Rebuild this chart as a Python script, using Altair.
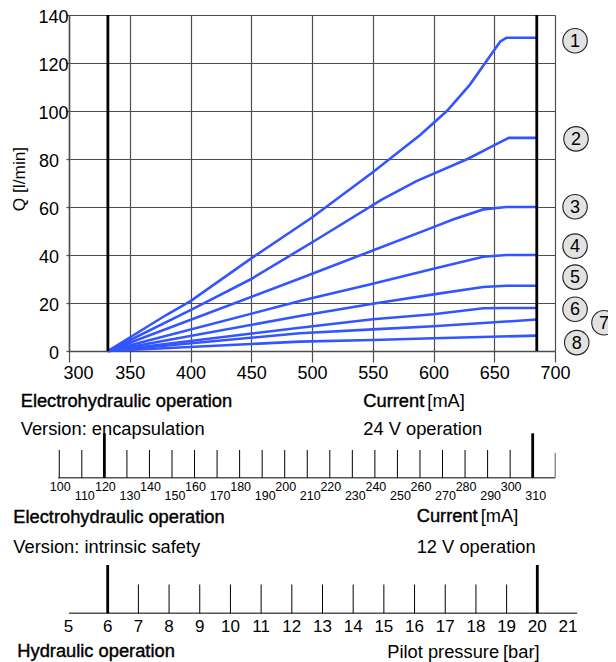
import altair as alt
import pandas as pd

FONT = "Liberation Sans"
BLUE = "#3355ff"
GRID = "#4d4d4d"

# ---- characteristic curves: current [mA] vs flow Q [l/min] ----
curve_1_current = [332, 380, 400, 450, 500, 550, 589, 611, 630, 648, 655, 660, 685]
curve_1_flow = [0, 15, 20.8, 38.6, 55.6, 74.5, 90, 100, 111, 124, 129, 130.5, 130.5]
curve_2_current = [332, 400, 450, 507, 557, 586, 628, 655, 662, 685]
curve_2_flow = [0, 17, 30, 47.4, 63, 70.8, 80, 87, 88.8, 88.8]
curve_3_current = [332, 490, 550, 600, 616, 641, 660, 685]
curve_3_flow = [0, 30.2, 41.9, 51.6, 54.8, 59, 60, 60]
curve_4_current = [332, 490, 550, 600, 641, 660, 685]
curve_4_flow = [0, 20.8, 28, 34.3, 39.3, 40, 40]
curve_5_current = [332, 490, 550, 600, 641, 660, 685]
curve_5_flow = [0, 14.6, 19.7, 23.6, 26.7, 27.2, 27.2]
curve_6_current = [332, 490, 550, 600, 641, 660, 685]
curve_6_flow = [0, 9.7, 13.2, 15.3, 17.8, 17.9, 17.9]
curve_7_current = [332, 490, 550, 600, 685]
curve_7_flow = [0, 7.4, 9.0, 10.3, 13.1]
curve_8_current = [332, 490, 550, 600, 685]
curve_8_flow = [0, 3.9, 4.6, 5.3, 6.4]

limit_current = [332, 685]

curve_ids = ["1", "2", "3", "4", "5", "6", "7", "8"]
label_current = [716.5, 717.3, 716.5, 716.5, 716.5, 716.5, 740.3, 717.9]
label_flow = [129.3, 88.4, 60.1, 43.7, 30.8, 17.4, 11.8, 3.5]

x_ticks = [300, 350, 400, 450, 500, 550, 600, 650, 700]
y_ticks = [0, 20, 40, 60, 80, 100, 120, 140]

# ---- 24 V scale (encapsulation), current [mA] ----
enc_minor = [100, 110, 130, 140, 150, 160, 170, 180, 190, 200, 210, 220, 230,
             240, 250, 260, 270, 280, 290, 300]
enc_major = [120, 310]
enc_end = [320]
enc_labels = [100, 110, 120, 130, 140, 150, 160, 170, 180, 190, 200, 210, 220,
              230, 240, 250, 260, 270, 280, 290, 300, 310]

# ---- 12 V scale (intrinsic safety) / pilot pressure [bar] ----
bar_minor = [7, 8, 9, 10, 11, 12, 13, 14, 15, 16, 17, 18, 19]
bar_major = [6, 20]
bar_labels = [5, 6, 7, 8, 9, 10, 11, 12, 13, 14, 15, 16, 17, 18, 19, 20, 21]

curves = [
    (curve_1_current, curve_1_flow), (curve_2_current, curve_2_flow),
    (curve_3_current, curve_3_flow), (curve_4_current, curve_4_flow),
    (curve_5_current, curve_5_flow), (curve_6_current, curve_6_flow),
    (curve_7_current, curve_7_flow), (curve_8_current, curve_8_flow),
]
rows = []
for cid, (cx, cy) in zip(curve_ids, curves):
    for i, (a, b) in enumerate(zip(cx, cy)):
        rows.append({"curve": cid, "current": a, "flow": b, "o": i})
curve_df = pd.DataFrame(rows)

xs = alt.Scale(domain=[300, 700], nice=False, zero=False)
ys = alt.Scale(domain=[0, 140], nice=False, zero=False)

xaxis = alt.Axis(values=x_ticks, title=None, grid=True, gridColor=GRID, gridWidth=1.2,
                 tickSize=11, tickColor=GRID, tickWidth=1.2, domainColor=GRID, domainWidth=1.5,
                 labelFont=FONT, labelFontSize=18, labelColor="black", labelPadding=2,
                 labelFlush=False, labelOverlap=False,
                 labelOffset={"condition": {"test": "datum.value == 300", "value": 9}, "value": 0})
yaxis = alt.Axis(values=y_ticks, title=None, grid=True, gridColor=GRID, gridWidth=1.2,
                 tickSize=3, tickColor=GRID, tickWidth=1.2, domainColor=GRID, domainWidth=1.5,
                 labelFont=FONT, labelFontSize=18, labelColor="black", labelOffset=2,
                 labelOverlap=False,
                 labelPadding={"condition": {"test": "datum.value >= 100", "value": -2}, "value": 7.5})

layers = []

lines = alt.Chart(curve_df).mark_line(color=BLUE, strokeWidth=2.6).encode(
    x=alt.X("current:Q", scale=xs, axis=xaxis),
    y=alt.Y("flow:Q", scale=ys, axis=yaxis),
    detail="curve:N",
    order="o:Q",
)
layers.append(lines)

limits = alt.Chart(pd.DataFrame({"current": limit_current})).mark_rule(
    color="black", strokeWidth=2.8).encode(x=alt.X("current:Q", scale=xs, axis=xaxis))
layers.append(limits)

lab_df = pd.DataFrame({"id": curve_ids, "current": label_current, "flow": label_flow})
circles = alt.Chart(lab_df).mark_circle(size=600, color="#e2e2e2", opacity=1,
                                        stroke="#222222", strokeWidth=1.1).encode(
    x=alt.X("current:Q", scale=xs, axis=xaxis), y=alt.Y("flow:Q", scale=ys, axis=yaxis))
nums = alt.Chart(lab_df).mark_text(font=FONT, fontSize=18, color="black", baseline="middle",
                                   align="center", dy=1).encode(
    x=alt.X("current:Q", scale=xs, axis=xaxis), y=alt.Y("flow:Q", scale=ys, axis=yaxis),
    text="id:N")
layers += [circles, nums]

# ---- scale 1 (24 V) ----
MAP1 = "292.0 + (datum.v - 100) * 1.8554"
Y1_BASE = 462.7


def s1(values):
    return alt.Chart(pd.DataFrame({"v": values})).transform_calculate(px=MAP1)


layers.append(s1([99.5]).transform_calculate(v2="320", px2="292.0 + (datum.v2 - 100) * 1.8554")
              .mark_rule(color="#555555", strokeWidth=1.6).encode(
    x=alt.X("px:Q", scale=xs, axis=xaxis), x2="px2:Q", y=alt.value(Y1_BASE)))
layers.append(s1(enc_minor).mark_rule(color="black", strokeWidth=1).encode(
    x=alt.X("px:Q", scale=xs, axis=xaxis), y=alt.value(435), y2=alt.value(Y1_BASE)))
layers.append(s1(enc_end).mark_rule(color="#777777", strokeWidth=1.2).encode(
    x=alt.X("px:Q", scale=xs, axis=xaxis), y=alt.value(438), y2=alt.value(Y1_BASE)))
layers.append(s1(enc_major).mark_rule(color="black", strokeWidth=2.8).encode(
    x=alt.X("px:Q", scale=xs, axis=xaxis), y=alt.value(418.3), y2=alt.value(Y1_BASE)))
enc_lab_df = pd.DataFrame({"v": enc_labels, "lab": [str(v) for v in enc_labels],
                           "i": list(range(len(enc_labels)))})
for parity, ypix, dx in [(0, 472.3, 1), (1, 481.0, 3)]:
    layers.append(alt.Chart(enc_lab_df).transform_calculate(px=MAP1)
                  .transform_filter(f"datum.i % 2 == {parity}")
                  .mark_text(font=FONT, fontSize=12.5, color="black", baseline="middle",
                             align="center", dx=dx).encode(
        x=alt.X("px:Q", scale=xs, axis=xaxis), y=alt.value(ypix), text="lab:N"))

# ---- scale 2 (12 V / pilot pressure) ----
MAP2 = "331.85 + (datum.v - 6) * 25.256"
Y2_BASE = 598.3


def s2(values):
    return alt.Chart(pd.DataFrame({"v": values})).transform_calculate(px=MAP2)


layers.append(s2([4.74]).transform_calculate(v2="21.3", px2="331.85 + (datum.v2 - 6) * 25.256")
              .mark_rule(color="#555555", strokeWidth=1.6).encode(
    x=alt.X("px:Q", scale=xs, axis=xaxis), x2="px2:Q", y=alt.value(Y2_BASE)))
layers.append(s2(bar_minor).mark_rule(color="black", strokeWidth=1).encode(
    x=alt.X("px:Q", scale=xs, axis=xaxis), y=alt.value(569.5), y2=alt.value(Y2_BASE)))
layers.append(s2(bar_major).mark_rule(color="black", strokeWidth=2.8).encode(
    x=alt.X("px:Q", scale=xs, axis=xaxis), y=alt.value(550), y2=alt.value(Y2_BASE)))
bar_lab_df = pd.DataFrame({"v": bar_labels, "lab": [str(v) for v in bar_labels]})
layers.append(alt.Chart(bar_lab_df)
              .transform_calculate(p="datum.v == 5 ? 4.72 : datum.v")
              .transform_calculate(px="331.85 + (datum.p - 6) * 25.256")
              .mark_text(font=FONT, fontSize=17, color="black", baseline="middle",
                         align="center").encode(
    x=alt.X("px:Q", scale=xs, axis=xaxis), y=alt.value(612.3), text="lab:N"))


# ---- texts ----
def txt(s, x, y, heavy=False, size=18.3, angle=0, align="left"):
    kw = dict(font=FONT, fontSize=size, color="black", align=align, baseline="middle",
              angle=angle)
    if heavy:
        kw.update(stroke="black", strokeWidth=0.4)
    return alt.Chart(pd.DataFrame({"t": [s]})).mark_text(**kw).encode(
        x=alt.value(x), y=alt.value(y), text="t:N")


layers += [
    txt("Q [l/min]", -49, 164, size=17.3, angle=270, align="center"),
    txt("Electrohydraulic operation", -48.3, 386.7, heavy=True),
    txt("Version: encapsulation", -48.3, 415),
    txt("Current", 294.3, 386.7, heavy=True),
    txt("[mA]", 358.3, 386.7),
    txt("24 V operation", 294.3, 415),
    txt("Electrohydraulic operation", -55.7, 503.3, heavy=True),
    txt("Current", 347.7, 501.7, heavy=True),
    txt("[mA]", 411.7, 501.7),
    txt("Version: intrinsic safety", -55.7, 533.3),
    txt("12 V operation", 347.7, 533.3),
    txt("Hydraulic operation", -51.7, 637.2, heavy=True),
    txt("Pilot pressure", 318.3, 637.7),
    txt("[bar]", 434, 637.7),
]

chart = alt.layer(*layers).properties(
    width=486, height=336,
    autosize=alt.AutoSizeParams(type="none"),
    padding={"left": 61, "top": 7, "right": 53, "bottom": 311},
).configure_view(stroke=None)

chart.save("out.html", embed_options={"renderer": "svg", "actions": False})
